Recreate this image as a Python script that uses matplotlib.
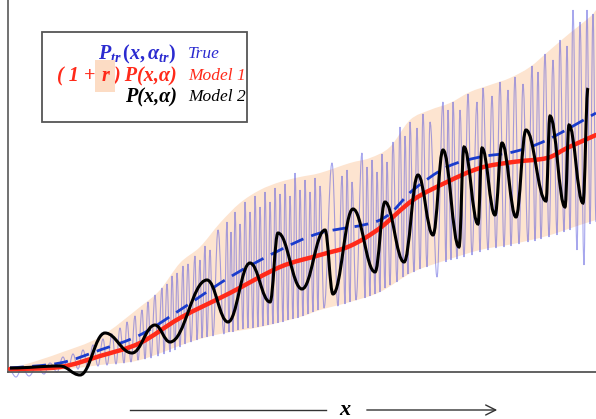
import numpy as np
import matplotlib.pyplot as plt
from matplotlib.path import Path
from matplotlib.patches import PathPatch, Rectangle

plt.rcParams['mathtext.fontset'] = 'custom'
plt.rcParams['mathtext.it'] = 'Liberation Serif:italic:bold'
plt.rcParams['mathtext.rm'] = 'Liberation Serif:bold'
plt.rcParams['mathtext.bf'] = 'Liberation Serif:bold'

# uncertainty band around the true curve
band_up_x = [0, 22, 52, 92, 132, 152, 172, 192, 212, 232, 252, 272, 292, 312,
             342, 362, 382, 402, 422, 442, 462, 482, 502, 522, 542, 562, 582, 588]
band_up_y = [3, 9, 19, 35, 65, 82, 109, 125, 149, 169, 182, 190, 195, 199,
             209, 214, 225, 252, 262, 269, 280, 287, 294, 305, 322, 339, 355, 362]
band_lo_x = [2, 52, 92, 132, 182, 212, 252, 292, 312, 342, 372, 405, 439, 472,
             505, 539, 572, 588]
band_lo_y = [-2, 2, 7, 12, 30, 38, 45, 55, 62, 70, 80, 100, 112, 122,
             128, 136, 147, 152]

# True: P_tr(x, alpha_tr), peaks and troughs
true_x = [2, 8, 14, 21, 29, 36, 42, 49, 55, 60, 65, 70, 75, 80, 85, 90, 95, 99,
          104, 108, 112, 116, 119, 123, 127, 130, 134, 137, 140, 143, 147, 150,
          154, 156, 159, 162, 164, 167, 169, 172, 175, 177, 180, 183, 187, 189,
          192, 194, 197, 199, 202, 205, 210, 216, 219, 221, 223, 225, 227, 230,
          232, 235, 237, 240, 242, 245, 247, 250, 252, 255, 257, 260, 262, 265,
          267, 270, 272, 275, 277, 280, 282, 285, 287, 290, 292, 295, 297, 300,
          302, 305, 307, 310, 312, 316, 324, 330, 334, 337, 339, 342, 344, 348,
          354, 357, 359, 362, 364, 367, 369, 372, 374, 377, 379, 382, 385, 389,
          392, 395, 397, 400, 402, 406, 409, 412, 415, 419, 422, 429, 435, 438,
          440, 443, 445, 449, 452, 456, 460, 464, 469, 472, 475, 480, 484, 488,
          492, 496, 500, 503, 507, 511, 515, 520, 524, 527, 530, 533, 537, 541,
          545, 549, 552, 556, 559, 562, 565, 569, 572, 576, 579, 582, 585, 588]
true_y = [1, -5, 4, -4, 6, -2, 9, 0, 15, 2, 18, 3, 22, 4, 27, 6, 33, 7,
          38, 8, 44, 9, 50, 10, 56, 12, 62, 13, 70, 14, 77, 16,
          84, 18, 88, 20, 96, 22, 99, 25, 106, 28, 108, 30, 116, 32,
          112, 34, 126, 35, 122, 36, 142, 38, 150, 40, 140, 40, 160, 42,
          148, 43, 170, 44, 160, 44, 176, 45, 165, 46, 180, 47, 170, 48,
          184, 49, 178, 50, 188, 52, 176, 53, 199, 54, 182, 56, 192, 58,
          180, 60, 194, 62, 186, 64, 209, 66, 196, 68, 202, 70, 190, 72,
          219, 74, 205, 76, 212, 78, 200, 80, 218, 84, 210, 87, 230, 90,
          245, 95, 236, 98, 250, 100, 244, 103, 258, 105, 250, 95, 270, 110,
          262, 112, 270, 113, 262, 115, 278, 117, 270, 120, 284, 122, 276, 124,
          290, 125, 282, 126, 295, 128, 288, 130, 306, 131, 300, 133, 318, 135,
          312, 137, 332, 140, 326, 142, 362, 122, 350, 107, 362, 148, 358, 150]

# Model 1: (1 + r) P(x, alpha)
red_x = [2, 52, 92, 132, 172, 222, 272, 312, 342, 372, 405, 439, 472, 505, 539, 559, 588]
red_y = [3, 5, 16, 29, 54, 79, 105, 117, 126, 144, 172, 190, 204, 210, 214, 224, 237]

# smooth trend of the true curve (dashed)
trend_x = [2, 52, 92, 132, 172, 222, 272, 312, 372, 405, 439, 472, 505, 539, 588]
trend_y = [4, 9, 22, 37, 62, 95, 122, 139, 152, 182, 205, 215, 220, 232, 259]

# Model 2: P(x, alpha), peaks and troughs
black_x = [2, 52, 72, 97, 124, 147, 162, 199, 220, 242, 262, 270, 294, 317, 325,
           345, 367, 377, 396, 410, 425, 435, 451, 456, 470, 474, 487, 494, 508,
           518, 538, 542, 557, 561, 575, 580]
black_y = [4, 6, -3, 39, 19, 47, 30, 92, 50, 109, 70, 139, 83, 142, 78,
           163, 100, 170, 110, 197, 137, 222, 125, 225, 148, 224, 157, 229, 155,
           242, 171, 256, 165, 247, 169, 284]

legend_names = ['True', 'Model 1', 'Model 2']
legend_colors = ['#2b2bd0', '#ff2a1a', 'black']


def smooth_verts(xs, ys):
    pts = np.column_stack([xs, ys]).astype(float)
    n = len(pts)
    verts = [pts[0]]
    codes = [Path.MOVETO]
    for i in range(n - 1):
        p0 = pts[max(i - 1, 0)]
        p1 = pts[i]
        p2 = pts[i + 1]
        p3 = pts[min(i + 2, n - 1)]
        verts += [p1 + (p2 - p0) / 6, p2 - (p3 - p1) / 6, p2]
        codes += [Path.CURVE4] * 3
    return verts, codes


def wave_verts(xs, ys, k=0.4):
    # flat tangents at each extreme
    verts = [(xs[0], ys[0])]
    codes = [Path.MOVETO]
    for i in range(len(xs) - 1):
        dx = xs[i + 1] - xs[i]
        verts += [(xs[i] + k * dx, ys[i]), (xs[i + 1] - k * dx, ys[i + 1]), (xs[i + 1], ys[i + 1])]
        codes += [Path.CURVE4] * 3
    return verts, codes


fig = plt.figure(figsize=(5.96, 4.19), dpi=100)
ax = fig.add_axes([8 / 596, 47 / 419, 588 / 596, 372 / 419])
ax.set_xlim(0, 588)
ax.set_ylim(0, 372)
ax.set_xticks([])
ax.set_yticks([])
ax.spines['top'].set_visible(False)
ax.spines['right'].set_visible(False)
ax.spines['left'].set_color('#666666')
ax.spines['bottom'].set_color('#555555')
ax.spines['left'].set_linewidth(1.3)
ax.spines['bottom'].set_linewidth(1.3)

# band
uv, uc = smooth_verts(band_up_x, band_up_y)
lv, lc = smooth_verts(band_lo_x[::-1], band_lo_y[::-1])
lc[0] = Path.LINETO
band = Path(uv + lv + [uv[0]], uc + lc + [Path.CLOSEPOLY])
ax.add_patch(PathPatch(band, facecolor='#fde4d0', edgecolor='none', zorder=1))

v, c = wave_verts(true_x, true_y)
ax.add_patch(PathPatch(Path(v, c), facecolor='none', edgecolor='#5050dd', alpha=0.5,
                       lw=0.8, zorder=2, clip_on=False))

v, c = smooth_verts(red_x, red_y)
ax.add_patch(PathPatch(Path(v, c), facecolor='none', edgecolor='#ff2a1a', lw=3.2,
                       capstyle='round', zorder=3))

v, c = smooth_verts(trend_x, trend_y)
ax.add_patch(PathPatch(Path(v, c), facecolor='none', edgecolor='#1a3ccc', lw=2.0,
                       linestyle=(0, (5, 3)), zorder=4))

v, c = wave_verts(black_x, black_y)
ax.add_patch(PathPatch(Path(v, c), facecolor='none', edgecolor='black', lw=2.2,
                       zorder=5, clip_on=False))

# legend box
ax.add_patch(Rectangle((34, 250), 205, 90, facecolor='white', edgecolor='#555555',
                       lw=1.3, zorder=6))
rows_y = [318, 296, 275]
bi = dict(family='Liberation Serif', weight='bold', style='italic', fontsize=14.5, zorder=8)

ax.text(169, rows_y[0], r'$P_{tr}\,(x,\alpha_{tr})$', ha='right', va='center',
        color=legend_colors[0], fontsize=14.5, zorder=8)
t = ax.text(169, rows_y[1], ') P(x,α)', ha='right', va='center', color=legend_colors[1], **bi)
t = ax.annotate('r', xy=(0, 0.5), xycoords=t, xytext=(-3, 0), textcoords='offset points',
                ha='right', va='center', color=legend_colors[1],
                bbox=dict(boxstyle='square,pad=0.3', facecolor='#fcdcc4', edgecolor='none'),
                **bi)
ax.annotate('( 1 +', xy=(0, 0.5), xycoords=t, xytext=(-4, 0), textcoords='offset points',
            ha='right', va='center', color=legend_colors[1], **bi)
ax.text(169, rows_y[2], 'P(x,α)', ha='right', va='center', color=legend_colors[2], **bi)
for name, col, y in zip(legend_names, legend_colors, rows_y):
    ax.text(180, y, name, ha='left', va='center', color=col, fontsize=12.5,
            family='Liberation Serif', style='italic', zorder=8)

# x arrow below the axis
ax.plot([122, 318], [-38, -38], color='#333333', lw=1, clip_on=False)
ax.annotate('', xy=(492, -38), xytext=(356, -38), annotation_clip=False,
            arrowprops=dict(arrowstyle='->', color='#333333', lw=1, mutation_scale=18))
ax.text(337, -38, 'x', ha='center', va='center', fontsize=16, family='Liberation Serif',
        style='italic', weight='bold')

fig.savefig('out.png', dpi=100)
